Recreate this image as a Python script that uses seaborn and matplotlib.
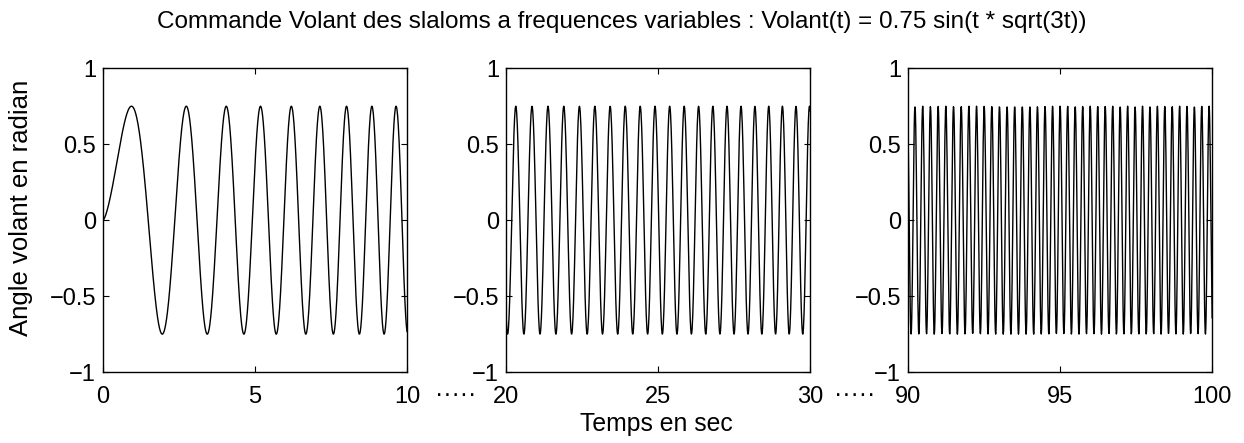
import numpy as np
import pandas as pd
import matplotlib
matplotlib.use("Agg")
import matplotlib.pyplot as plt
import seaborn as sns

# signal shown in the title: Volant(t) = 0.75 sin(t * sqrt(3t))
amplitude = 0.75
time_windows = [(0, 10), (20, 30), (90, 100)]
x_ticks = [[0, 5, 10], [20, 25, 30], [90, 95, 100]]
y_ticks = [-1, -0.5, 0, 0.5, 1]
y_tick_labels = ["\u22121", "\u22120.5", "0", "0.5", "1"]
dt = 0.01

title = "Commande Volant des slaloms a frequences variables : Volant(t) = 0.75 sin(t * sqrt(3t))"
xlabel = "Temps en sec"
ylabel = "Angle volant en radian"

sns.set_style("ticks")
plt.rcParams["font.family"] = ["Liberation Sans", "DejaVu Sans"]
plt.rcParams["xtick.direction"] = "in"
plt.rcParams["ytick.direction"] = "in"
plt.rcParams["text.color"] = "black"
plt.rcParams["xtick.color"] = "black"
plt.rcParams["ytick.color"] = "black"
plt.rcParams["axes.labelcolor"] = "black"

fig = plt.figure(figsize=(12.44, 4.43), dpi=100)
lefts = [0.0828, 0.4068, 0.730]
axes = [fig.add_axes([l, 0.160, 0.2444, 0.686]) for l in lefts]

for ax, (t0, t1), xt in zip(axes, time_windows, x_ticks):
    t = np.arange(t0, t1 + dt / 2, dt)
    df = pd.DataFrame({"t": t, "volant": amplitude * np.sin(t * np.sqrt(3 * t))})
    sns.lineplot(data=df, x="t", y="volant", ax=ax, color="black",
                 linewidth=1.0, estimator=None, sort=False)
    ax.set_xlim(t0, t1)
    ax.set_ylim(-1, 1)
    ax.set_xticks(xt)
    ax.set_yticks(y_ticks)
    ax.set_yticklabels(y_tick_labels)
    ax.set_xlabel("")
    ax.set_ylabel("")
    ax.tick_params(labelsize=17, length=4, width=0.8, top=True, right=True)
    ax.tick_params(axis="x", pad=10)
    ax.tick_params(axis="y", pad=5)
    for s in ax.spines.values():
        s.set_linewidth(1.0)
        s.set_color("black")

axes[0].set_ylabel(ylabel, fontsize=18.5)
axes[0].yaxis.set_label_coords(-0.23, 0.54)

fig.text(0.5, 0.95, title, ha="center", va="center", fontsize=17.5)
fig.text(0.528, 0.043, xlabel, ha="center", va="center", fontsize=17.8)
for xd in [0.3666, 0.687]:
    fig.text(xd, 0.108, "\u00b7\u00b7\u00b7\u00b7\u00b7", ha="center", va="center",
             fontsize=18)

fig.savefig("out.png", dpi=100, facecolor="white")
